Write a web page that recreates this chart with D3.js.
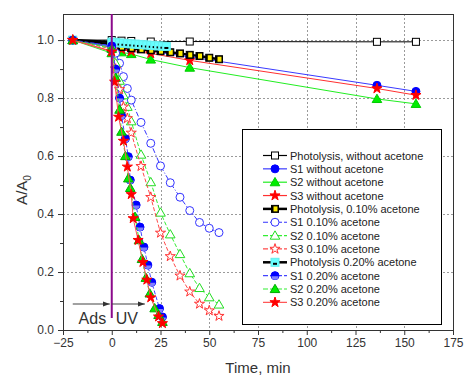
<!DOCTYPE html>
<html>
<head>
<meta charset="utf-8">
<script src="https://cdn.jsdelivr.net/npm/d3@7"></script>
<style>
  body { margin: 0; background: #fff; }
  svg { display: block; font-family: "Liberation Sans", Arial, sans-serif; }
</style>
</head>
<body>
<div class="chart"></div>
<script>
// ---- data ----
const xTicks = [-25, 0, 25, 50, 75, 100, 125, 150, 175];
const yTicks = [0, 0.2, 0.4, 0.6, 0.8, 1.0];

// without acetone
const tNoAc   = [-20, 0, 5, 10, 20, 40, 136, 156];
const vPhot0  = [1.0, 1.0, 0.998, 0.997, 0.995, 0.995, 0.994, 0.994];
const vS1_0   = [1.0, 0.975, 0.972, 0.968, 0.962, 0.942, 0.844, 0.823];
const vS2_0   = [1.0, 0.955, 0.958, 0.952, 0.933, 0.905, 0.797, 0.78];
const vS3_0   = [1.0, 0.962, 0.968, 0.961, 0.954, 0.93, 0.833, 0.81];

// 0.10 % acetone
const tPhot10 = [-20, 0, 5, 10, 15, 20, 25, 30, 35, 40, 45, 50, 55];
const vPhot10 = [1.0, 0.985, 0.976, 0.972, 0.968, 0.965, 0.962, 0.958, 0.954, 0.949, 0.945, 0.939, 0.934];
const t10     = [-20, 0, 2, 4, 6, 8, 10, 15, 20, 25, 30, 35, 40, 45, 50, 55];
const vS1_10  = [1.0, 0.98, 0.955, 0.92, 0.874, 0.833, 0.793, 0.716, 0.644, 0.566, 0.508, 0.458, 0.412, 0.371, 0.351, 0.336];
const vS2_10  = [1.0, 0.975, 0.92, 0.86, 0.81, 0.77, 0.72, 0.605, 0.51, 0.405, 0.33, 0.262, 0.196, 0.145, 0.113, 0.088];
const vS3_10  = [1.0, 0.97, 0.9, 0.83, 0.77, 0.73, 0.68, 0.565, 0.458, 0.335, 0.254, 0.187, 0.132, 0.09, 0.067, 0.048];

// 0.20 % acetone
const tPhot20 = [-20, 0, 2, 4, 6, 8, 10, 12, 14, 16, 18, 20, 22, 24, 26, 28];
const vPhot20 = [1.0, 0.993, 0.992, 0.99, 0.989, 0.988, 0.987, 0.986, 0.985, 0.984, 0.983, 0.982, 0.981, 0.98, 0.979, 0.978];
const tS1_20  = [-20, 0, 2, 4, 5, 7, 8.5, 9.5, 12.5, 14.5, 16.5, 18.5, 20.5, 24.5, 26];
const vS1_20  = [1.0, 0.98, 0.9, 0.8, 0.74, 0.66, 0.598, 0.517, 0.431, 0.355, 0.286, 0.224, 0.165, 0.074, 0.045];
const tS2_20  = [-20, 0, 2, 4, 5, 7, 8.5, 9.5, 12, 14, 15.5, 17.5, 19.5, 22, 24, 26];
const vS2_20  = [1.0, 0.97, 0.87, 0.76, 0.684, 0.6, 0.523, 0.49, 0.39, 0.31, 0.245, 0.18, 0.126, 0.075, 0.052, 0.028];
const tS3_20  = [-20, 0, 1.5, 3.5, 6, 8, 10, 11, 13.5, 16, 18, 20, 24, 26];
const vS3_20  = [1.0, 0.96, 0.856, 0.735, 0.652, 0.563, 0.468, 0.385, 0.31, 0.234, 0.173, 0.112, 0.046, 0.023];

const zip = (t, v) => t.map((d, i) => ({ t: d, v: v[i] }));

const series = [
  { name: "Photolysis, without acetone", data: zip(tNoAc, vPhot0),  line: "#000", lw: 1,   dash: null,      mark: "sqOpen" },
  { name: "S1 without acetone",          data: zip(tNoAc, vS1_0),   line: "#3a3aff", lw: 1, dash: null,      mark: "circle", fill: "#0000ff", stroke: "#0000ff" },
  { name: "S2 without acetone",          data: zip(tNoAc, vS2_0),   line: "#22ee22", lw: 1, dash: null,      mark: "tri",    fill: "#00ee00", stroke: "#00cc00" },
  { name: "S3 without acetone",          data: zip(tNoAc, vS3_0),   line: "#ff3030", lw: 1, dash: null,      mark: "star",   fill: "#ff0000", stroke: "#ff0000" },
  { name: "Photolysis, 0.10%  acetone",  data: zip(tPhot10, vPhot10), line: "#000", lw: 2.5, dash: null,    mark: "sqYellow" },
  { name: "S1 0.10%  acetone",           data: zip(t10, vS1_10),    line: "#3333ff", lw: 1, dash: "5,2,1,2", mark: "circle", fill: "#fff", stroke: "#3333ff" },
  { name: "S2 0.10%  acetone",           data: zip(t10, vS2_10),    line: "#33ee33", lw: 1, dash: "4,2",     mark: "tri",    fill: "#fff", stroke: "#22dd22" },
  { name: "S3 0.10%  acetone",           data: zip(t10, vS3_10),    line: "#ff4a4a", lw: 1, dash: "4,2",     mark: "star",   fill: "#fff", stroke: "#ff3333" },
  { name: "Photolysis 0.20%  acetone",   data: zip(tPhot20, vPhot20), line: "#000", lw: 2.5, dash: null,    mark: "sqCyan" },
  { name: "S1 0.20%  acetone",           data: zip(tS1_20, vS1_20), line: "#4444ff", lw: 1, dash: "4,2",     mark: "halfCircle" },
  { name: "S2 0.20%  acetone",           data: zip(tS2_20, vS2_20), line: "#33ee33", lw: 1, dash: "3,2",     mark: "tri",    fill: "#00ee00", stroke: "#00aa00" },
  { name: "S3 0.20%  acetone",           data: zip(tS3_20, vS3_20), line: "#ff5050", lw: 1, dash: null,      mark: "star",   fill: "#ff0000", stroke: "#ff0000" }
];

// ---- layout ----
const W = 464, H = 378;
const plot = { left: 63, right: 453, top: 14, bottom: 330 };

const svg = d3.select(".chart").append("svg")
  .attr("width", W).attr("height", H);

const x = d3.scaleLinear().domain([-25, 175]).range([plot.left, plot.right]);
const y = d3.scaleLinear().domain([0, 1.09]).range([plot.bottom, plot.top]);

// grid
const grid = svg.append("g").attr("stroke", "#9a9a9a").attr("stroke-width", 1).attr("stroke-dasharray", "2,2");
grid.selectAll(".gx").data(xTicks.filter(d => d > 0 && d < 175)).enter().append("line")
  .attr("x1", d => Math.round(x(d)) + 0.5).attr("x2", d => Math.round(x(d)) + 0.5)
  .attr("y1", plot.top).attr("y2", plot.bottom);
grid.selectAll(".gy").data(yTicks.filter(d => d > 0)).enter().append("line")
  .attr("y1", d => Math.round(y(d)) + 0.5).attr("y2", d => Math.round(y(d)) + 0.5)
  .attr("x1", plot.left).attr("x2", plot.right);

// axes
const xAxis = d3.axisBottom(x).tickValues(xTicks).tickSize(5).tickPadding(3).tickFormat(d3.format("d"));
const xMinor = d3.axisBottom(x).tickValues(d3.range(-12.5, 175, 25)).tickSize(3).tickFormat("");
const yAxis = d3.axisLeft(y).tickValues(yTicks).tickSize(5).tickPadding(4).tickFormat(d3.format(".1f"));
const yMinor = d3.axisLeft(y).tickValues(d3.range(0.1, 1.05, 0.2)).tickSize(3).tickFormat("");

function styleAxis(g) {
  g.select(".domain").remove();
  g.selectAll("line").attr("stroke", "#333");
  g.selectAll("text").attr("fill", "#333").attr("font-size", 12)
    .attr("font-family", "'Liberation Sans', Arial, sans-serif");
}
svg.append("g").attr("transform", `translate(0,${plot.bottom})`).call(xAxis).call(styleAxis);
svg.append("g").attr("transform", `translate(0,${plot.bottom})`).call(xMinor).call(styleAxis);
svg.append("g").attr("transform", `translate(${plot.left},0)`).call(yAxis).call(styleAxis);
svg.append("g").attr("transform", `translate(${plot.left},0)`).call(yMinor).call(styleAxis);

// frame
svg.append("rect")
  .attr("x", plot.left + 0.5).attr("y", plot.top + 0.5)
  .attr("width", plot.right - plot.left).attr("height", plot.bottom - plot.top)
  .attr("fill", "none").attr("stroke", "#333").attr("stroke-width", 1);

// axis titles
svg.append("text").attr("x", (plot.left + plot.right) / 2).attr("y", 373)
  .attr("text-anchor", "middle").attr("font-size", 15).attr("fill", "#333").text("Time, min");
const yl = svg.append("text").attr("transform", "translate(27,190) rotate(-90)")
  .attr("text-anchor", "middle").attr("font-size", 15).attr("fill", "#333");
yl.append("tspan").text("A/A");
yl.append("tspan").attr("font-size", 10).attr("dy", 4).text("0");

// markers
const starPath = d3.symbol().type(d3.symbolStar).size(32)();
const triPath = d3.symbol().type(d3.symbolTriangle).size(40)();
function drawMarker(g, s) {
  switch (s.mark) {
    case "sqOpen":
      g.append("rect").attr("x", -3.5).attr("y", -3.5).attr("width", 7).attr("height", 7)
        .attr("fill", "#fff").attr("stroke", "#000").attr("stroke-width", 1);
      break;
    case "sqYellow":
      g.append("rect").attr("x", -3.5).attr("y", -3.5).attr("width", 7).attr("height", 7)
        .attr("fill", "#000").attr("stroke", "#000").attr("stroke-width", 1);
      g.append("rect").attr("x", -1.5).attr("y", -2.5).attr("width", 4).attr("height", 5)
        .attr("fill", "#ffee00");
      break;
    case "sqCyan":
      g.append("rect").attr("x", -4).attr("y", -4).attr("width", 8).attr("height", 8)
        .attr("fill", "#66ffff").attr("stroke", "#66eeee").attr("stroke-width", 1);
      g.append("rect").attr("x", -2).attr("y", 0.5).attr("width", 4).attr("height", 2).attr("fill", "#000");
      break;
    case "circle":
      g.append("circle").attr("r", 4).attr("fill", s.fill).attr("stroke", s.stroke).attr("stroke-width", 1);
      break;
    case "halfCircle":
      g.append("circle").attr("r", 4).attr("fill", "#0000ff").attr("stroke", "#0000ff").attr("stroke-width", 1);
      g.append("path").attr("d", "M-3.5,0.5 L3.5,0.5 A3.5,3.5 0 0 1 -3.5,0.5 Z").attr("fill", "#8080ff");
      break;
    case "tri":
      g.append("path").attr("d", triPath).attr("transform", "translate(0,0.8)")
        .attr("fill", s.fill).attr("stroke", s.stroke).attr("stroke-width", 1);
      break;
    case "star":
      g.append("path").attr("d", starPath)
        .attr("fill", s.fill).attr("stroke", s.stroke).attr("stroke-width", 1);
      break;
  }
}

const line = d3.line().x(d => x(d.t)).y(d => y(d.v));
const layer = svg.append("g");
series.forEach(s => {
  const g = layer.append("g");
  g.append("path").datum(s.data).attr("d", line)
    .attr("fill", "none").attr("stroke", s.line).attr("stroke-width", s.lw)
    .attr("stroke-dasharray", s.dash);
  g.selectAll(".m").data(s.data).enter().append("g")
    .attr("transform", d => `translate(${x(d.t)},${y(d.v)})`)
    .each(function() { drawMarker(d3.select(this), s); });
});

// UV-on marker and arrows
svg.append("line").attr("x1", x(0)).attr("x2", x(0)).attr("y1", plot.top).attr("y2", 318)
  .attr("stroke", "#8b0a8b").attr("stroke-width", 2);
svg.append("defs").append("marker").attr("id", "arr").attr("viewBox", "0 0 10 10")
  .attr("refX", 10).attr("refY", 5).attr("markerWidth", 7).attr("markerHeight", 7)
  .attr("orient", "auto").attr("markerUnits", "userSpaceOnUse")
  .append("path").attr("d", "M0,1.5 L10,5 L0,8.5 Z").attr("fill", "#333");
const arrowY = 304;
svg.append("line").attr("x1", x(-20)).attr("x2", x(-1)).attr("y1", arrowY).attr("y2", arrowY)
  .attr("stroke", "#444").attr("stroke-width", 1.2).attr("marker-end", "url(#arr)");
svg.append("line").attr("x1", x(0)).attr("x2", x(17)).attr("y1", arrowY).attr("y2", arrowY)
  .attr("stroke", "#444").attr("stroke-width", 1.2).attr("marker-end", "url(#arr)");
svg.append("text").attr("x", x(-17)).attr("y", 324).attr("font-size", 16).attr("fill", "#333").text("Ads");
svg.append("text").attr("x", x(2)).attr("y", 324).attr("font-size", 16).attr("fill", "#333").text("UV");

// legend
const lg = svg.append("g");
lg.append("rect").attr("x", 242.5).attr("y", 129.5).attr("width", 199).attr("height", 195)
  .attr("fill", "#fff").attr("stroke", "#000").attr("stroke-width", 1);
series.forEach((s, i) => {
  const ly = 155.5 + i * 13.35;
  const row = lg.append("g");
  row.append("line").attr("x1", 263).attr("x2", 287).attr("y1", ly).attr("y2", ly)
    .attr("stroke", s.line).attr("stroke-width", s.lw === 1 ? 1.2 : 2.5)
    .attr("stroke-dasharray", s.dash ? "5,2" : null);
  drawMarker(row.append("g").attr("transform", `translate(275,${ly})`), s);
  row.append("text").attr("x", 290).attr("y", ly + 4).attr("font-size", 11)
    .attr("fill", "#222").text(s.name);
});
</script>
</body>
</html>
